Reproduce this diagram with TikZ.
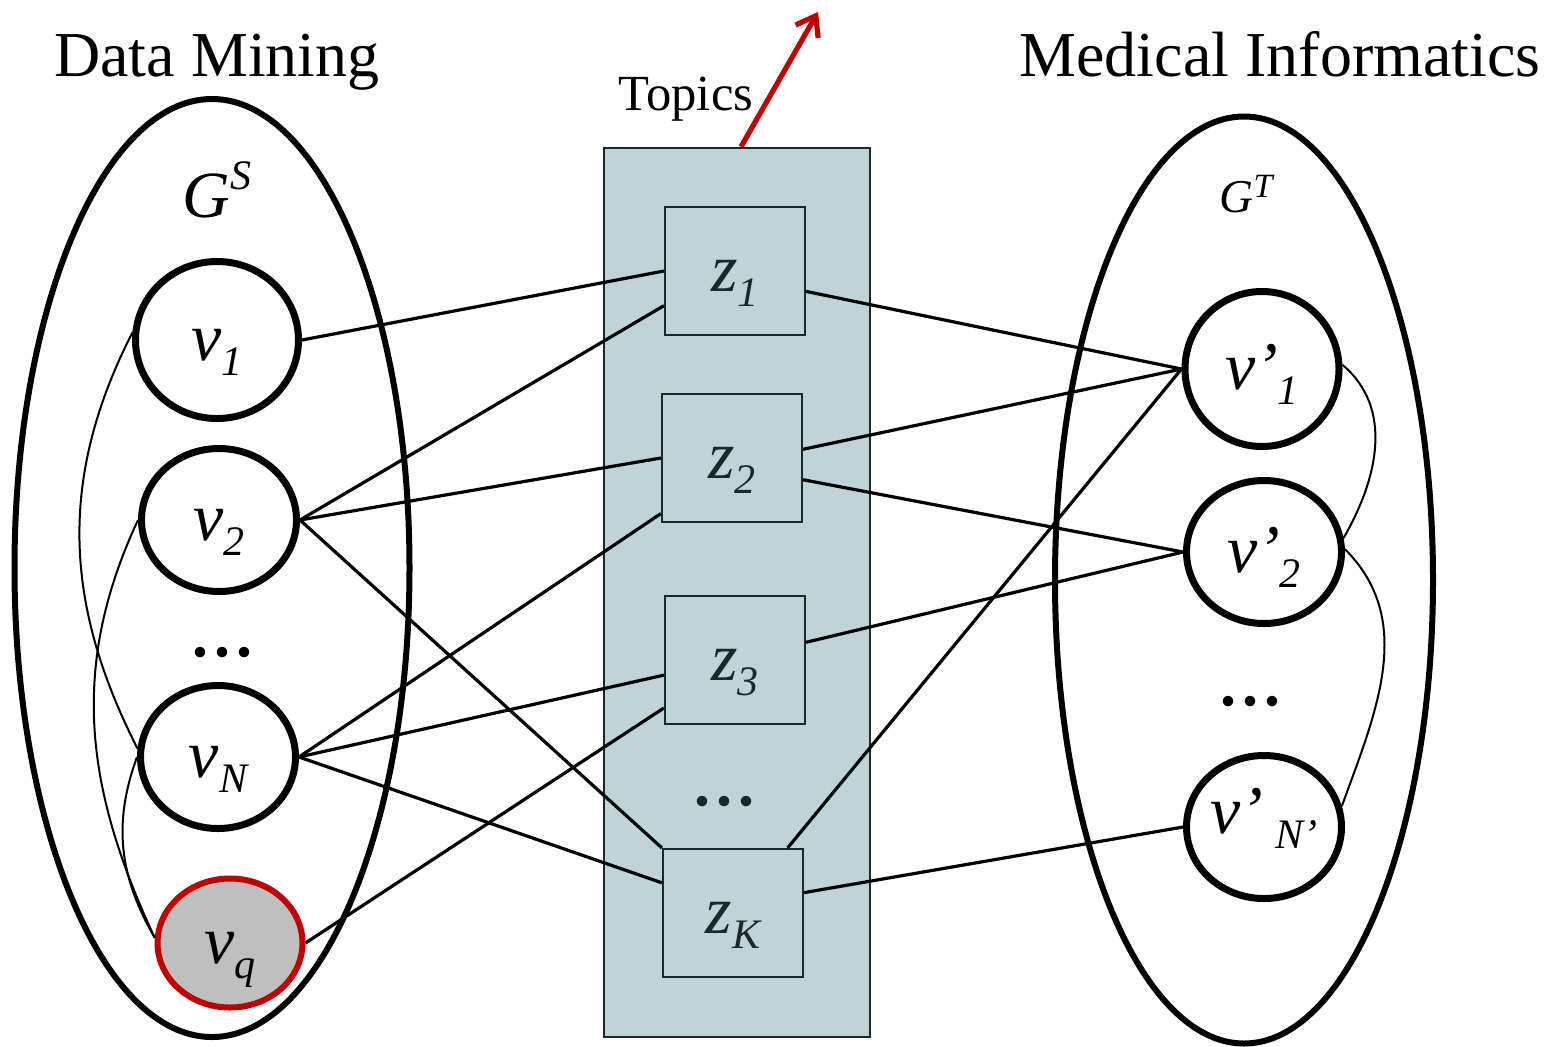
\documentclass[tikz,border=0pt]{standalone}
\usepackage{fontspec}
\setmainfont{Liberation Serif}
\usepackage{tikz}
\usetikzlibrary{shapes,arrows.meta,calc,positioning}
\definecolor{topicfill}{RGB}{191,212,214}
\definecolor{topicline}{RGB}{25,40,42}
\definecolor{qred}{RGB}{192,0,0}
\definecolor{qgray}{RGB}{191,191,191}
\newcommand{\nlab}[2]{\smash{\raisebox{-10pt}{#1\raisebox{-7.5pt}{\fontsize{21}{21}\selectfont #2}}}}

\begin{document}
\begin{tikzpicture}[
  x=0.5pt, y=-0.5pt,
  graphbox/.style={ellipse, draw, line width=3pt, inner sep=0pt},
  vnode/.style={ellipse, draw, fill=white, line width=3.5pt, inner sep=0pt, minimum width=77.5pt, minimum height=71.5pt, font=\fontsize{34}{34}\selectfont\itshape},
  qnode/.style={vnode, draw=qred, fill=qgray, line width=3pt, minimum width=72.5pt, minimum height=64.5pt},
  topic/.style={rectangle, draw=topicline, line width=1.1pt, inner sep=0pt, minimum width=70pt, minimum height=64pt, text=topicline, font=\fontsize{34}{34}\selectfont\itshape},
  wire/.style={line width=1.6pt},
  simlink/.style={line width=1pt},
  dots/.style={anchor=base, font=\fontsize{44}{44}\selectfont},
  title/.style={anchor=base, font=\fontsize{32}{32}\selectfont}
]
\useasboundingbox (0,0) rectangle (1547,1046);

% Topic layer
\node[rectangle, draw=topicline, fill=topicfill, line width=1.2pt, minimum width=133pt, minimum height=444.5pt] (topics) at (737,592.5) {};

% Source and target graphs
\node[graphbox, minimum width=197.5pt, minimum height=469pt] (domS) at (212,568) {};
\node[graphbox, minimum width=189pt, minimum height=463.5pt] (domT) at (1244,580) {};
\node[anchor=base, font=\fontsize{33}{33}\selectfont\itshape] (gs) at (217,217) {G\raisebox{14pt}{\fontsize{21}{21}\selectfont S}};
\node[anchor=base, font=\fontsize{23.5}{23.5}\selectfont\itshape] (gt) at (1246,212) {G\raisebox{7.5pt}{\fontsize{17}{17}\selectfont T}};

% Source nodes
\node[vnode, minimum width=81.5pt, minimum height=78.5pt] (v1) at (217,340) {\nlab{v}{1}};
\node[vnode] (v2) at (219,520) {\nlab{v}{2}};
\node[dots] (dotS) at (222,656) {...};
\node[vnode] (vN) at (218,757) {\nlab{v}{N}};
\node[qnode] (vq) at (230,943) {\nlab{v}{q}};

% Topics
\node[topic] (z1) at (735,271) {\nlab{z}{1}};
\node[topic] (z2) at (732,458) {\nlab{z}{2}};
\node[topic] (z3) at (735,660) {\nlab{z}{3}};
\node[dots, text=topicline] (dotZ) at (724,805) {...};
\node[topic] (zK) at (733,913) {\nlab{z}{K}};

% Target nodes
\node[vnode, minimum width=77pt, minimum height=77.5pt] (vt1) at (1262,369) {\nlab{v'}{1}};
\node[vnode] (vt2) at (1264,552) {\nlab{v'}{2}};
\node[dots] (dotT) at (1250,705) {...};
\node[vnode] (vtN) at (1264,827) {\smash{\raisebox{-3pt}{v'\hspace{6pt}\raisebox{-7.5pt}{\fontsize{21}{21}\selectfont N'}}}};

% Source to topics
\draw[wire] (v1.east) -- (z1.west);
\draw[wire] (v2.east) -- (z1.206);
\draw[wire] (v2.east) -- (z2.west);
\draw[wire] (v2.east) -- (zK.north west);
\draw[wire] (vN.east) -- (z2.218);
\draw[wire] (vN.east) -- (z3.192);
\draw[wire] (vN.east) -- (zK.157);
\draw[wire] (vq.east) -- (z3.214);

% Topics to target
\draw[wire] (z1.344) -- (vt1.west);
\draw[wire] (z2.7) -- (vt1.west);
\draw[wire] (z2.343) -- (vt2.west);
\draw[wire] (z3.14) -- (vt2.west);
\draw[wire] (zK.50) -- (vt1.west);
\draw[wire] (zK.16) -- (vtN.west);

% Links inside the graphs
\draw[simlink] (v1.175) to[out=243, in=117] (vN.174);
\draw[simlink] (v2.west) to[out=245, in=115] (vq.176);
\draw[simlink] (vN.west) to[out=250, in=120] (vq.176);
\draw[simlink] (vt1.3) to[out=-40, in=60] (vt2.10);
\draw[simlink] (vt2.2) to[out=-45, in=70] (vtN.15);

% Outgoing arrow
\coordinate (arrtip) at (818,12);
\draw[qred, line width=2.6pt, -{Straight Barb[length=9pt,width=13pt]}] ($(topics.north)+(4,0)$) -- (arrtip);

% Titles
\node[title] (tS) at (217,76) {Data Mining};
\node[title] (tT) at (1280,76) {Medical Informatics};
\node[anchor=base, font=\fontsize{25.3}{25.3}\selectfont] (tZ) at (686,110) {Topics};

\end{tikzpicture}
\end{document}
